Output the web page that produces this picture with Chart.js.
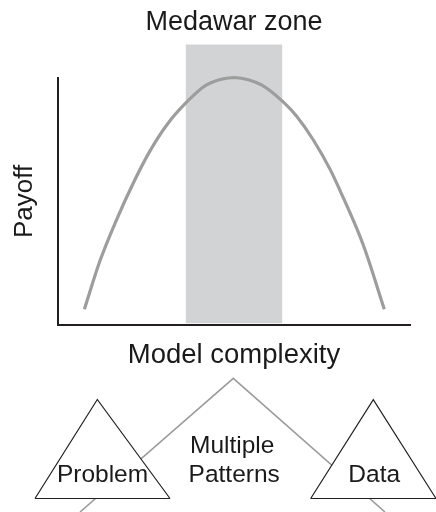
<!DOCTYPE html>
<html>
<head>
<meta charset="utf-8">
<script src="https://cdn.jsdelivr.net/npm/chart.js@4.4.1/dist/chart.umd.min.js"></script>
<style>
  body { margin: 0; background: #fff; }
  #wrap { position: relative; width: 436px; height: 512px; overflow: hidden; }
  #payoffChart { position: absolute; left: 0; top: 0; }
  #diagramChart { position: absolute; left: 0; top: 375px; }
</style>
</head>
<body>
<div id="wrap">
  <canvas id="payoffChart" width="436" height="375"></canvas>
  <canvas id="diagramChart" width="436" height="137"></canvas>
</div>
<script>
// --- Payoff curve (x: model complexity, y: payoff, both 0..100) ---
const complexity = [7.5, 11.9, 16.6, 21.4, 26.1, 30.9, 36.6, 42.2, 50.0, 57.8, 64.2, 67.8, 72.5, 77.3, 80.1, 86.7, 92.7];
const payoff     = [6.4, 25.9, 42.5, 57.5, 70.4, 81.0, 90.3, 97.2, 100.2, 97.2, 90.0, 84.5, 75.0, 63.0, 54.5, 32.5, 6.4];

// Medawar zone band
const zoneX = [36.4, 63.6];
const zoneY = [0.8, 113.4];

// --- Lower diagram (x across the page, y up from the bottom edge) ---
const triBase = 13.5;
const problemTriX = [35, 97.3, 170];
const problemTriY = [triBase, 112.5, triBase];
const dataTriX = [310.7, 373.3, 436];
const dataTriY = [triBase, 112.3, triBase];
const patternTriX = [80, 233.3, 385];
const patternTriY = [0, 133.7, 0];

const labelText = ['Multiple', 'Patterns', 'Problem', 'Data'];
const labelX = [232.2, 234.2, 102.5, 374.2];
const labelY = [65.7, 36.5, 36.5, 36.5];

const FONT = '"Liberation Sans", Arial, Helvetica, sans-serif';
const INK = '#1a1a1a';

Chart.defaults.font.family = FONT;
Chart.defaults.color = INK;

function toPoints(xs, ys) {
    return xs.map((x, i) => ({ x: x, y: ys[i] }));
}

// --- Top chart ---
new Chart(document.getElementById('payoffChart'), {
    type: 'line',
    data: {
        datasets: [{
            data: toPoints(complexity, payoff),
            borderColor: '#9d9d9d',
            borderWidth: 3.2,
            pointRadius: 0,
            cubicInterpolationMode: 'monotone',
            fill: false,
            clip: false
        }, {
            type: 'bar',
            data: [{ x: (zoneX[0] + zoneX[1]) / 2, y: zoneY }],
            backgroundColor: '#d1d3d4',
            borderWidth: 0,
            barThickness: (c) => {
                const s = c.chart.scales.x;
                return s.getPixelForValue(zoneX[1]) - s.getPixelForValue(zoneX[0]);
            },
            clip: false
        }]
    },
    options: {
        responsive: false,
        animation: false,
        layout: { padding: { left: 0, right: 26, top: 0, bottom: 0 } },
        plugins: {
            legend: { display: false },
            tooltip: { enabled: false },
            title: {
                display: true,
                text: 'Medawar zone',
                fullSize: false,
                color: INK,
                font: { size: 27, weight: 'normal', lineHeight: 1.2 },
                padding: { top: 6.3, bottom: 39.3 }
            }
        },
        scales: {
            x: {
                type: 'linear',
                min: 0,
                max: 100,
                offset: false,
                grid: { display: false, drawTicks: false, offset: false },
                ticks: { display: false },
                border: { display: true, color: '#231f20', width: 2 },
                title: {
                    display: true,
                    text: 'Model complexity',
                    color: INK,
                    font: { size: 27.5, lineHeight: 1.2 },
                    padding: { top: 14.4, bottom: 2.6 }
                }
            },
            y: {
                min: 0,
                max: 100,
                grid: { display: false, drawTicks: false },
                ticks: { display: false },
                border: { display: true, color: '#231f20', width: 2 },
                title: {
                    display: true,
                    text: 'Payoff',
                    color: INK,
                    font: { size: 26, lineHeight: 1.2 },
                    padding: { top: 9.4, bottom: 17.4 }
                }
            }
        }
    }
});

// --- Bottom diagram: labels drawn through the scales ---
const diagramLabels = {
    id: 'diagramLabels',
    afterDatasetsDraw(chart) {
        const { ctx, scales: { x, y } } = chart;
        ctx.save();
        ctx.fillStyle = INK;
        ctx.font = '24.5px ' + FONT;
        ctx.textAlign = 'center';
        ctx.textBaseline = 'middle';
        labelText.forEach((t, i) => {
            ctx.fillText(t, x.getPixelForValue(labelX[i]), y.getPixelForValue(labelY[i]));
        });
        ctx.restore();
    }
};

// triangle bases as one line with a gap between the two triangles
const basePoints = [
    { x: problemTriX[0], y: triBase }, { x: problemTriX[2], y: triBase },
    { x: 240, y: null },
    { x: dataTriX[0], y: triBase }, { x: dataTriX[2], y: triBase }
];

new Chart(document.getElementById('diagramChart'), {
    type: 'line',
    data: {
        datasets: [{
            data: basePoints,
            borderColor: '#231f20',
            borderWidth: 1.2,
            pointRadius: 0,
            spanGaps: false,
            fill: false
        }, {
            data: toPoints(problemTriX, problemTriY),
            borderColor: '#231f20',
            borderWidth: 1.2,
            backgroundColor: '#ffffff',
            fill: { value: triBase },
            pointRadius: 0,
            tension: 0
        }, {
            data: toPoints(dataTriX, dataTriY),
            borderColor: '#231f20',
            borderWidth: 1.2,
            backgroundColor: '#ffffff',
            fill: { value: triBase },
            pointRadius: 0,
            tension: 0
        }, {
            data: toPoints(patternTriX, patternTriY),
            borderColor: '#9b9b9b',
            borderWidth: 1.6,
            fill: false,
            pointRadius: 0,
            tension: 0
        }]
    },
    options: {
        responsive: false,
        animation: false,
        layout: { padding: 0 },
        plugins: {
            legend: { display: false },
            tooltip: { enabled: false },
            title: { display: false }
        },
        scales: {
            x: { type: 'linear', display: false, min: 0, max: 436 },
            y: { type: 'linear', display: false, min: 0, max: 137 }
        }
    },
    plugins: [diagramLabels]
});
</script>
</body>
</html>
